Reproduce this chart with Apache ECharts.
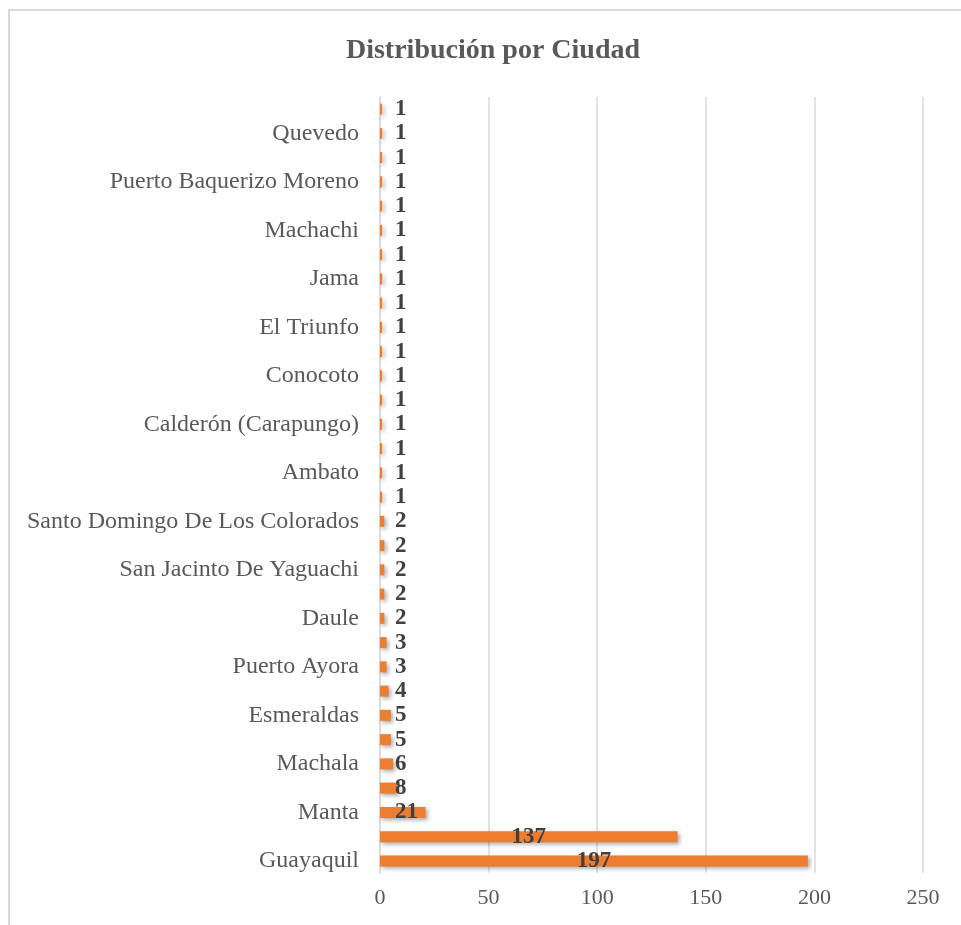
<!DOCTYPE html>
<html>
<head>
<meta charset="utf-8">
<script src="https://cdn.jsdelivr.net/npm/echarts@6/dist/echarts.min.js"></script>
<style>
  html, body { margin: 0; padding: 0; background: #fff; }
  .frame { position: absolute; left: 8px; top: 9px; width: 953px; height: 916px;
           border-left: 2px solid #d9d9d9; border-top: 2px solid #d9d9d9; box-sizing: border-box; }
  #chart { position: absolute; left: 0; top: 0; width: 961px; height: 925px; }
</style>
</head>
<body>
<div class="frame"></div>
<div id="chart"></div>
<script>
  // ciudades (de abajo hacia arriba)
  var ciudades = [
    'Guayaquil', 'Quito', 'Manta', 'Durán', 'Machala', 'Portoviejo', 'Esmeraldas', 'Loja',
    'Puerto Ayora', 'Salinas', 'Daule', 'Milagro', 'San Jacinto De Yaguachi', 'Samborondón',
    'Santo Domingo De Los Colorados', 'Atuntaqui', 'Ambato', 'Azogues', 'Calderón (Carapungo)',
    'Cayambe', 'Conocoto', 'Cuenca', 'El Triunfo', 'Ibarra', 'Jama', 'La Libertad', 'Machachi',
    'Montecristi', 'Puerto Baquerizo Moreno', 'Pujilí', 'Quevedo', 'Riobamba'
  ];
  var cantidades = [197, 137, 21, 8, 6, 5, 5, 4, 3, 3, 2, 2, 2, 2, 2, 1,
                    1, 1, 1, 1, 1, 1, 1, 1, 1, 1, 1, 1, 1, 1, 1, 1];
  var ejeX = [0, 50, 100, 150, 200, 250];

  var myChart = echarts.init(document.getElementById('chart'));
  var serif = '"Liberation Serif", "DejaVu Serif", serif';

  var datos = cantidades.map(function (v) {
    return v > 50 ? { value: v, label: { position: 'inside' } } : { value: v };
  });

  var option = {
    animation: false,
    title: {
      text: 'Distribución por Ciudad',
      left: 488, top: 32, textAlign: 'center',
      textStyle: { fontFamily: serif, fontSize: 28, fontWeight: 'bold', color: '#595959' }
    },
    grid: { left: 380, right: 38, top: 97, bottom: 52 },
    xAxis: {
      type: 'value',
      min: ejeX[0], max: ejeX[ejeX.length - 1], interval: 50,
      axisLine: { show: false },
      axisTick: { show: false },
      axisLabel: { fontFamily: serif, fontSize: 22, color: '#595959', margin: 14 },
      splitLine: { show: true, lineStyle: { color: '#d9d9d9', width: 1.5 } }
    },
    yAxis: {
      type: 'category',
      data: ciudades,
      axisLine: { show: true, lineStyle: { color: '#d9d9d9', width: 1.5 } },
      axisTick: { show: false },
      axisLabel: { interval: 1, fontFamily: serif, fontSize: 24, color: '#595959', margin: 21 }
    },
    series: [{
      type: 'bar',
      data: datos,
      barWidth: 11,
      itemStyle: {
        color: '#ED7D31',
        shadowColor: 'rgba(0,0,0,0.35)', shadowBlur: 4, shadowOffsetX: 2, shadowOffsetY: 2
      },
      label: {
        show: true, position: 'insideLeft', distance: 15,
        fontFamily: serif, fontSize: 23, fontWeight: 'bold', color: '#404040'
      }
    }]
  };
  myChart.setOption(option);
</script>
</body>
</html>
